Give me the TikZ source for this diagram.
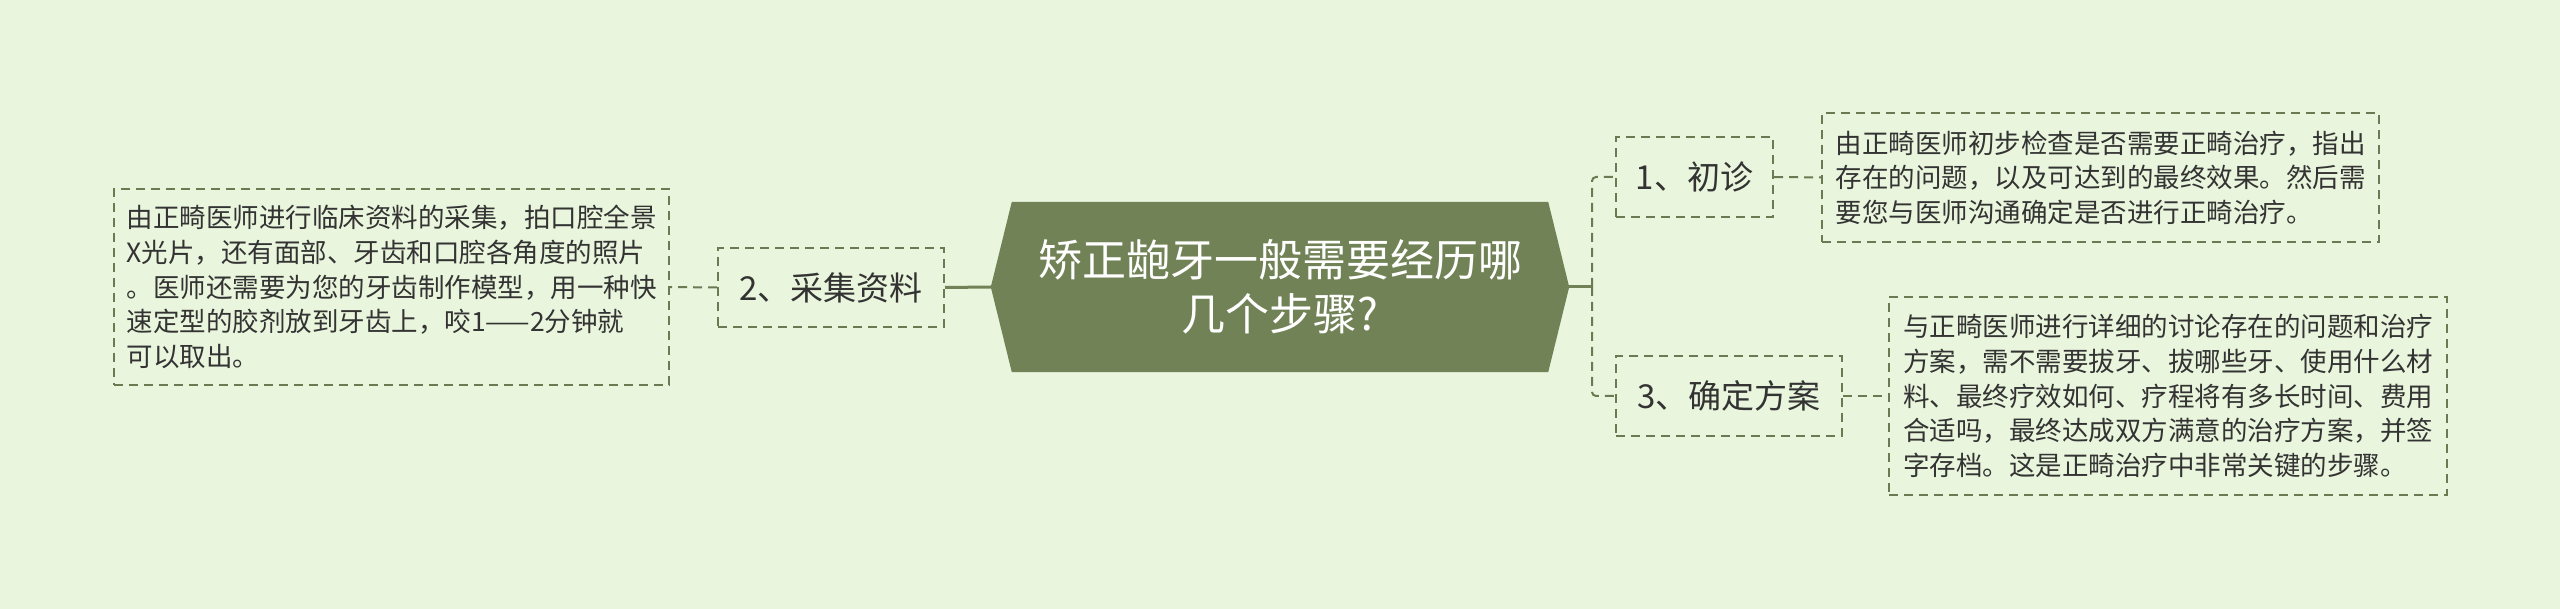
\documentclass[tikz,border=0pt]{standalone}
\usepackage{fontspec}
\setmainfont{Noto Sans CJK SC}
\usetikzlibrary{backgrounds}
\definecolor{bgc}{HTML}{E9F5DC}
\definecolor{rootc}{HTML}{718356}
\definecolor{linec}{HTML}{6B7A53}
\definecolor{txt}{HTML}{333333}
\tikzset{
  box/.style={draw=linec, line width=2pt, dash pattern=on 9pt off 6pt, text=txt, inner sep=0pt},
  lbl/.style={box, font=\fontsize{33}{38}\selectfont},
  desc/.style={box, font=\fontsize{26.5}{34.6}\selectfont, align=left},
  link/.style={draw=linec, line width=2pt, dash pattern=on 9pt off 6pt},
  trunk/.style={draw=rootc, line width=3pt},
  rootbox/.style={minimum width=578pt, minimum height=170pt, inner sep=0pt, text=white,
    align=center, font=\fontsize{44}{54}\selectfont},
}
\begin{document}
\begin{tikzpicture}[x=1pt,y=-1pt]
\useasboundingbox (0,0) rectangle (2560,609);

\node[rootbox] (root) at (1280,287) {矫正龅牙一般需要经历哪\\几个步骤?};
\begin{pgfonlayer}{background}
\fill[bgc] (0,0) rectangle (2560,609);
\fill[rootc] (root.west) -- ([xshift=21pt]root.north west) -- ([xshift=-21pt]root.north east)
  -- (root.east) -- ([xshift=-21pt]root.south east) -- ([xshift=21pt]root.south west) -- cycle;
\end{pgfonlayer}

\node[lbl, minimum width=226pt, minimum height=79pt] (s2) at (831,287.5) {2、采集资料};
\node[desc, minimum width=555pt, minimum height=196pt] (d2) at (391.5,287)
 {由正畸医师进行临床资料的采集，拍口腔全景\\X光片，还有面部、牙齿和口腔各角度的照片\\。医师还需要为您的牙齿制作模型，用一种快\\速定型的胶剂放到牙齿上，咬1——2分钟就\\可以取出。};

\node[lbl, minimum width=157pt, minimum height=80pt] (s1) at (1694.5,177) {1、初诊};
\node[desc, minimum width=557pt, minimum height=129pt] (d1) at (2100.5,177.5)
 {由正畸医师初步检查是否需要正畸治疗，指出\\存在的问题，以及可达到的最终效果。然后需\\要您与医师沟通确定是否进行正畸治疗。};

\node[lbl, minimum width=226pt, minimum height=80pt] (s3) at (1729,396) {3、确定方案};
\node[desc, minimum width=558pt, minimum height=198pt] (d3) at (2168,396)
 {与正畸医师进行详细的讨论存在的问题和治疗\\方案，需不需要拔牙、拔哪些牙、使用什么材\\料、最终疗效如何、疗程将有多长时间、费用\\合适吗，最终达成双方满意的治疗方案，并签\\字存档。这是正畸治疗中非常关键的步骤。};

\coordinate (fork) at (1592,287);

\draw[trunk] (root.west) -- (s2.east);
\draw[link] (s2.west) -- (d2.east);
\draw[trunk] (root.east) -- (fork);
\draw[link, rounded corners=4pt] (fork) |- (s1.west);
\draw[link, rounded corners=4pt] (fork) |- (s3.west);
\draw[link] (s1.east) -- (d1.west);
\draw[link] (s3.east) -- (d3.west);
\end{tikzpicture}
\end{document}
